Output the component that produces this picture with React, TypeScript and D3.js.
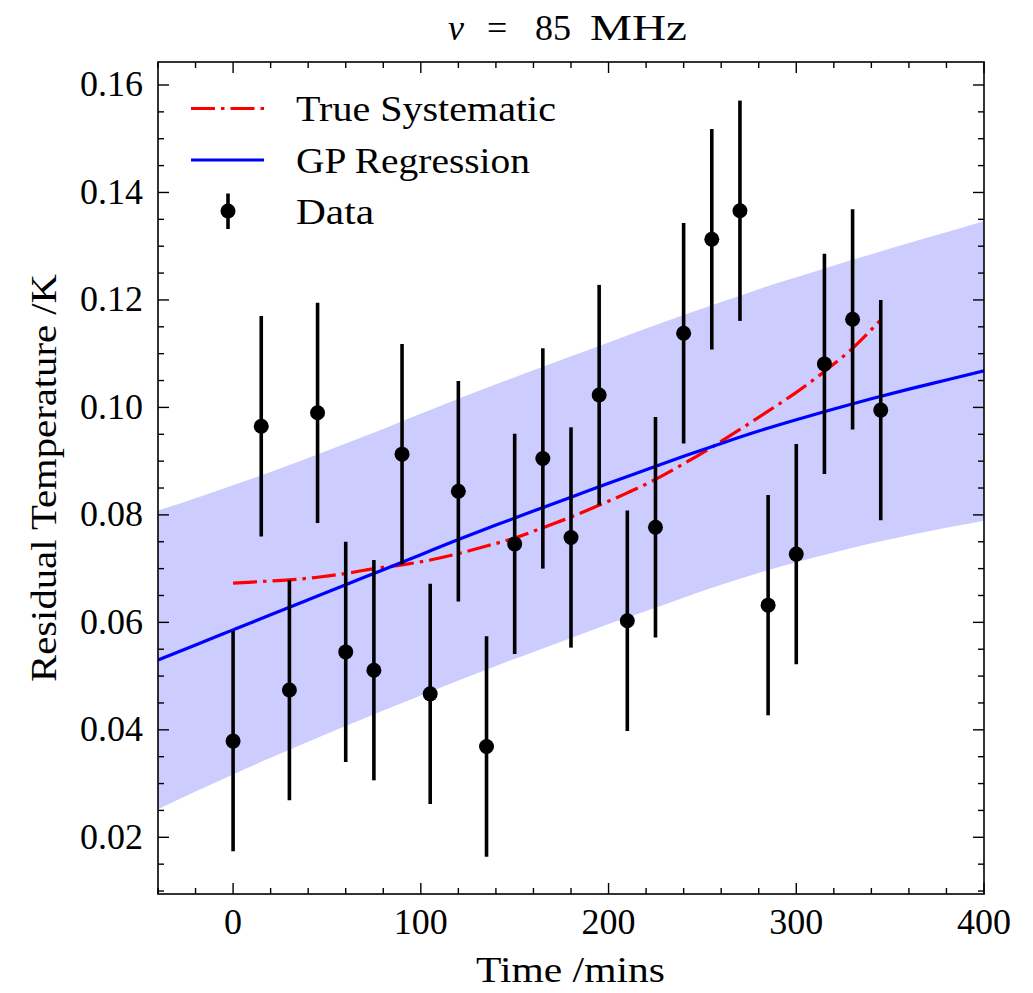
import React from "react";
import * as d3 from "d3";

// ---- data ----
const obsTimes = [0, 15, 30, 45, 60, 75, 90, 105, 120, 135, 150, 165, 180, 195, 210, 225, 240, 255, 270, 285, 300, 315, 330, 345];
const obsValues = [0.0379, 0.0965, 0.0474, 0.0990, 0.0545, 0.0511, 0.0913, 0.0467, 0.0844, 0.0369, 0.0746, 0.0905, 0.0758, 0.1023, 0.0603, 0.0777, 0.1138, 0.1313, 0.1366, 0.0632, 0.0727, 0.1081, 0.1164, 0.0995];
const obsError = [0.0205, 0.0205, 0.0205, 0.0205, 0.0205, 0.0205, 0.0205, 0.0205, 0.0205, 0.0205, 0.0205, 0.0205, 0.0205, 0.0205, 0.0205, 0.0205, 0.0205, 0.0205, 0.0205, 0.0205, 0.0205, 0.0205, 0.0205, 0.0205];
const trueSystematic = [0.0673, 0.0676, 0.0679, 0.0684, 0.0691, 0.0700, 0.0707, 0.0716, 0.0728, 0.0742, 0.0757, 0.0776, 0.0796, 0.0818, 0.0841, 0.0866, 0.0895, 0.0926, 0.0959, 0.0993, 0.1028, 0.1067, 0.1110, 0.1163];

const gpTimes = [-40, -20, 0, 20, 40, 60, 80, 100, 120, 140, 160, 180, 200, 220, 240, 260, 280, 300, 320, 340, 360, 380, 400];
const gpMean = [0.0530, 0.0558, 0.0586, 0.0614, 0.0642, 0.0670, 0.0698, 0.0726, 0.0754, 0.0781, 0.0807, 0.0833, 0.0859, 0.0884, 0.0909, 0.0933, 0.0956, 0.0977, 0.0997, 0.1016, 0.1034, 0.1051, 0.1068];
const gpSigma = [0.0278, 0.0273, 0.0269, 0.0266, 0.0264, 0.0263, 0.0262, 0.0262, 0.0262, 0.0262, 0.0262, 0.0262, 0.0262, 0.0263, 0.0263, 0.0263, 0.0264, 0.0265, 0.0267, 0.0269, 0.0272, 0.0275, 0.0279];

const xMajorTicks = [0, 100, 200, 300, 400];
const xMinorTicks = [-40, -20, 20, 40, 60, 80, 120, 140, 160, 180, 220, 240, 260, 280, 320, 340, 360, 380];
const yMajorTicks = [0.02, 0.04, 0.06, 0.08, 0.10, 0.12, 0.14, 0.16];
const yMinorStep = 0.005;

const legendLabels = ["True Systematic", "GP Regression", "Data"];
const xLabel = "Time /mins";
const yLabel = "Residual Temperature /K";

// ---- layout ----
const W = 1033, H = 993;
const L = 158, R = 984, T = 62, B = 894;
const FONT = "'Liberation Serif', 'DejaVu Serif', serif";
const FS = 36;

export default function App() {
  const x = d3.scaleLinear().domain([-40, 400]).range([L, R]);
  const y = d3.scaleLinear().domain([0.009448, 0.16428]).range([B, T]);

  const yMinorTicks = d3.range(0.01, 0.1645, yMinorStep).filter(
    (v) => !yMajorTicks.some((m) => Math.abs(m - v) < 1e-6)
  );

  const band = d3
    .area<number>()
    .x((_, i) => x(gpTimes[i]))
    .y0((_, i) => y(gpMean[i] - gpSigma[i]))
    .y1((_, i) => y(gpMean[i] + gpSigma[i]))
    .curve(d3.curveMonotoneX);
  const meanLine = d3
    .line<number>()
    .x((_, i) => x(gpTimes[i]))
    .y((d) => y(d))
    .curve(d3.curveMonotoneX);
  const sysLine = d3
    .line<number>()
    .x((_, i) => x(obsTimes[i]))
    .y((d) => y(d))
    .curve(d3.curveMonotoneX);

  const majorLen = 11, minorLen = 6;
  const dash = "24,6,3.5,6";
  const legendWidths = [260, 234, 78];

  return (
    <svg
      width={W}
      height={H}
      style={{ position: "absolute", left: 0, top: 0, background: "#fff" }}
      fontFamily={FONT}
    >
      <defs>
        <clipPath id="plotclip">
          <rect x={L} y={T} width={R - L} height={B - T} />
        </clipPath>
      </defs>
      <rect x={0} y={0} width={W} height={H} fill="#fff" />

      <g clipPath="url(#plotclip)">
        <path d={band(gpMean) || ""} fill="#ccccff" stroke="none" />
        <path d={sysLine(trueSystematic) || ""} fill="none" stroke="#ff0000" strokeWidth={3.2} strokeDasharray={dash} />
        <path d={meanLine(gpMean) || ""} fill="none" stroke="#0000ff" strokeWidth={3.2} />
        {obsValues.map((v, i) => (
          <g key={i}>
            <line
              x1={x(obsTimes[i])}
              x2={x(obsTimes[i])}
              y1={y(v - obsError[i])}
              y2={y(v + obsError[i])}
              stroke="#000"
              strokeWidth={3.6}
            />
            <circle cx={x(obsTimes[i])} cy={y(v)} r={7.5} fill="#000" />
          </g>
        ))}
      </g>

      {/* ticks */}
      <g stroke="#000" strokeWidth={1.4}>
        {xMajorTicks.map((t) => (
          <g key={"xM" + t}>
            <line x1={x(t)} x2={x(t)} y1={B} y2={B - majorLen} />
            <line x1={x(t)} x2={x(t)} y1={T} y2={T + majorLen} />
          </g>
        ))}
        {xMinorTicks.map((t) => (
          <g key={"xm" + t}>
            <line x1={x(t)} x2={x(t)} y1={B} y2={B - minorLen} />
            <line x1={x(t)} x2={x(t)} y1={T} y2={T + minorLen} />
          </g>
        ))}
        {yMajorTicks.map((t) => (
          <g key={"yM" + t}>
            <line x1={L} x2={L + majorLen} y1={y(t)} y2={y(t)} />
            <line x1={R} x2={R - majorLen} y1={y(t)} y2={y(t)} />
          </g>
        ))}
        {yMinorTicks.map((t) => (
          <g key={"ym" + t}>
            <line x1={L} x2={L + minorLen} y1={y(t)} y2={y(t)} />
            <line x1={R} x2={R - minorLen} y1={y(t)} y2={y(t)} />
          </g>
        ))}
      </g>
      <rect x={L} y={T} width={R - L} height={B - T} fill="none" stroke="#000" strokeWidth={1.6} />

      {/* tick labels */}
      <g fontSize={FS} fill="#000">
        {xMajorTicks.map((t) => (
          <text key={"xl" + t} x={x(t)} y={934} textAnchor="middle">
            {String(t)}
          </text>
        ))}
        {yMajorTicks.map((t) => (
          <text
            key={"yl" + t}
            x={80}
            y={y(t) + 11.5}
            textLength={63}
            lengthAdjust="spacingAndGlyphs"
          >
            {t.toFixed(2)}
          </text>
        ))}
      </g>

      {/* axis labels & title */}
      <text
        x={476}
        y={982}
        fontSize={FS}
        textLength={189}
        lengthAdjust="spacingAndGlyphs"
      >
        {xLabel}
      </text>
      <text
        transform={`translate(56, ${(T + B) / 2 + 204}) rotate(-90)`}
        fontSize={FS}
        textLength={408}
        lengthAdjust="spacingAndGlyphs"
      >
        {yLabel}
      </text>
      <text y={40} fontSize={FS}>
        <tspan x={448} fontStyle="italic">ν</tspan>
        <tspan x={487}>=</tspan>
        <tspan x={535}>85</tspan>
        <tspan x={590} textLength={97} lengthAdjust="spacingAndGlyphs">MHz</tspan>
      </text>

      {/* legend */}
      <g fontSize={FS}>
        <line x1={191} x2={264} y1={108.5} y2={108.5} stroke="#ff0000" strokeWidth={3.2} strokeDasharray={dash} />
        <text x={296} y={121} textLength={legendWidths[0]} lengthAdjust="spacingAndGlyphs">{legendLabels[0]}</text>
        <line x1={191} x2={264} y1={160} y2={160} stroke="#0000ff" strokeWidth={3.2} />
        <text x={296} y={172.5} textLength={legendWidths[1]} lengthAdjust="spacingAndGlyphs">{legendLabels[1]}</text>
        <line x1={228} x2={228} y1={193.5} y2={229} stroke="#000" strokeWidth={3.6} />
        <circle cx={228} cy={211} r={7.5} fill="#000" />
        <text x={296} y={224} textLength={legendWidths[2]} lengthAdjust="spacingAndGlyphs">{legendLabels[2]}</text>
      </g>
    </svg>
  );
}
